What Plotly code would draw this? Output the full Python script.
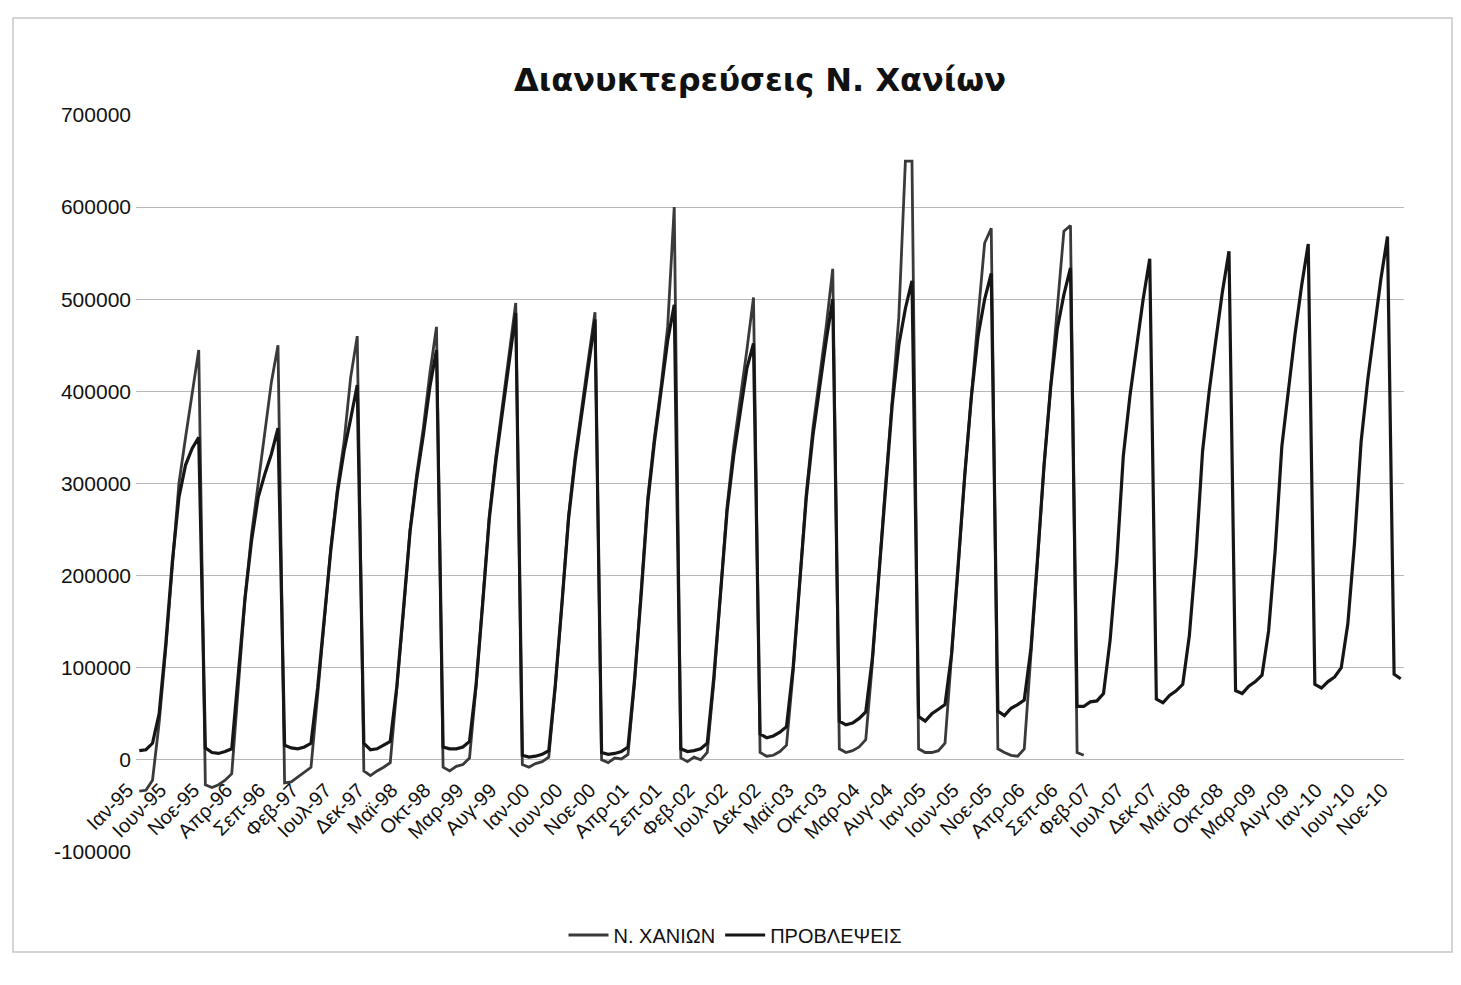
import plotly.graph_objects as go

# ---- data -------------------------------------------------------------
month_names = ['Ιαν', 'Φεβ', 'Μαρ', 'Απρ', 'Μαϊ', 'Ιουν', 'Ιουλ', 'Αυγ', 'Σεπ', 'Οκτ', 'Νοε', 'Δεκ']
years = list(range(1995, 2011))
categories = [f"{m}-{y % 100:02d}" for y in years for m in month_names]

# Ν. ΧΑΝΙΩΝ (1995-2006, monthly)
chania = [
    -34000, -33000, -22000, 40000, 120000, 215000, 300000, 350000, 400000, 445000, -27000, -30000,   # 1995
    -27000, -22000, -15000, 85000, 175000, 245000, 300000, 350000, 410000, 450000, -25000, -24000,   # 1996
    -19000, -14000, -8000, 70000, 150000, 230000, 295000, 345000, 415000, 460000, -12000, -17000,    # 1997
    -12000, -8000, -3000, 75000, 160000, 250000, 310000, 360000, 420000, 470000, -8000, -12000,      # 1998
    -7000, -5000, 2000, 80000, 170000, 265000, 330000, 385000, 445000, 496000, -5000, -8000,         # 1999
    -4000, -2000, 3000, 80000, 170000, 265000, 330000, 380000, 435000, 486000, 0, -3000,             # 2000
    2000, 1000, 6000, 85000, 180000, 285000, 350000, 405000, 470000, 600000, 2000, -2000,            # 2001
    3000, 0, 8000, 85000, 180000, 275000, 340000, 390000, 445000, 502000, 8000, 4000,                # 2002
    5000, 9000, 16000, 95000, 190000, 290000, 360000, 415000, 470000, 533000, 12000, 8000,           # 2003
    10000, 14000, 22000, 105000, 205000, 300000, 390000, 480000, 650000, 650000, 12000, 8000,        # 2004
    8000, 10000, 18000, 110000, 210000, 310000, 400000, 480000, 561000, 577000, 12000, 8000,         # 2005
    5000, 4000, 12000, 110000, 215000, 320000, 410000, 490000, 574000, 580000, 8000, 5000,           # 2006
]

# ΠΡΟΒΛΕΨΕΙΣ (1995-2010, monthly)
forecast = [
    10000, 11000, 18000, 50000, 125000, 215000, 285000, 320000, 338000, 350000, 13000, 8000,         # 1995
    7000, 9000, 12000, 90000, 175000, 238000, 285000, 310000, 332000, 360000, 16000, 13000,          # 1996
    12000, 14000, 18000, 78000, 152000, 228000, 290000, 335000, 370000, 407000, 18000, 11000,        # 1997
    12000, 16000, 20000, 80000, 162000, 248000, 305000, 352000, 405000, 445000, 14000, 12000,        # 1998
    12000, 14000, 20000, 82000, 170000, 262000, 325000, 378000, 435000, 485000, 5000, 3000,          # 1999
    4000, 6000, 10000, 82000, 170000, 262000, 325000, 375000, 428000, 478000, 8000, 6000,            # 2000
    7000, 9000, 14000, 88000, 180000, 280000, 345000, 400000, 455000, 494000, 12000, 9000,           # 2001
    10000, 12000, 18000, 90000, 180000, 270000, 330000, 380000, 425000, 452000, 28000, 24000,        # 2002
    26000, 30000, 36000, 100000, 190000, 285000, 352000, 405000, 455000, 500000, 42000, 38000,       # 2003
    40000, 45000, 52000, 110000, 205000, 300000, 385000, 450000, 490000, 520000, 47000, 42000,       # 2004
    50000, 55000, 60000, 115000, 212000, 310000, 395000, 460000, 500000, 528000, 53000, 48000,       # 2005
    56000, 60000, 65000, 120000, 218000, 320000, 405000, 468000, 505000, 534000, 58000, 58000,       # 2006
    63000, 64000, 72000, 130000, 215000, 330000, 395000, 450000, 500000, 544000, 66000, 62000,       # 2007
    70000, 75000, 82000, 135000, 222000, 335000, 400000, 455000, 508000, 552000, 75000, 72000,       # 2008
    80000, 85000, 92000, 140000, 228000, 340000, 405000, 462000, 515000, 560000, 82000, 78000,       # 2009
    85000, 90000, 100000, 148000, 235000, 345000, 412000, 470000, 522000, 568000, 93000, 88000,      # 2010
]

y_tick_values = [-100000, 0, 100000, 200000, 300000, 400000, 500000, 600000, 700000]
y_tick_labels = ['-100000', '0', '100000', '200000', '300000', '400000', '500000', '600000', '700000']
x_tick_values = categories[::5]
x_tick_labels = [c + '\u00a0\u00a0\u00a0' for c in x_tick_values]

# ---- layout (page pixel positions; body has an 8px margin) -------------
OFF = 8
W, H = 1461 - 2 * OFF, 985 - 2 * OFF
L, R, T, B = 136 - OFF, 1404 - OFF, 115 - OFF, 852 - OFF


def px_x(p):
    return (p - OFF - L) / (R - L)


def px_y(p):
    return (B - (p - OFF)) / (B - T)


fig = go.Figure()
fig.add_trace(go.Scatter(
    x=categories[:len(chania)], y=chania, mode='lines', name='Ν. ΧΑΝΙΩΝ',
    line=dict(color='#3a3a3a', width=2.8),
))
fig.add_trace(go.Scatter(
    x=categories[:len(forecast)], y=forecast, mode='lines', name='ΠΡΟΒΛΕΨΕΙΣ',
    line=dict(color='#161616', width=3.2),
))

fig.update_layout(
    width=W, height=H,
    margin=dict(l=L, r=W - R, t=T, b=H - B, autoexpand=False),
    paper_bgcolor='white', plot_bgcolor='white',
    font=dict(family='Liberation Sans, Arial, sans-serif', color='#222'),
    title=dict(
        text='<b>Διανυκτερεύσεις Ν. Χανίων</b>',
        font=dict(family='DejaVu Sans, sans-serif', size=32, color='#111'),
        x=(760 - OFF) / W, xanchor='center', xref='container',
        y=1 - (80 - OFF) / H, yanchor='middle', yref='container',
    ),
    showlegend=True,
    legend=dict(
        orientation='h', x=px_x(735), xanchor='center', xref='paper',
        y=px_y(935), yanchor='middle',
        font=dict(size=20, family='Liberation Sans, Arial, sans-serif', color='#111'),
        bgcolor='rgba(0,0,0,0)', itemwidth=40,
    ),
    xaxis=dict(
        type='category', range=[-0.5, len(categories) - 0.5],
        tickmode='array', tickvals=x_tick_values, ticktext=x_tick_labels,
        tickangle=-45, tickfont=dict(size=20, color='#111'),
        showgrid=False, zeroline=False, showline=False,
        ticks='', anchor='free', position=0.125,
        ticklabelstandoff=2,
    ),
    yaxis=dict(
        range=[-100000, 700000],
        tickmode='array', tickvals=y_tick_values, ticktext=y_tick_labels,
        tickfont=dict(size=21, color='#111'),
        showgrid=True, gridcolor='#b8b8b8', gridwidth=1,
        zeroline=False, showline=False, ticks='',
        ticklabelstandoff=4,
    ),
    shapes=[dict(
        type='rect', xref='paper', yref='paper',
        x0=px_x(13), x1=px_x(1452), y0=px_y(952), y1=px_y(18),
        line=dict(color='#c8c8c8', width=1.5), fillcolor='rgba(0,0,0,0)', layer='below',
    )],
)

fig.write_html('out.html')
